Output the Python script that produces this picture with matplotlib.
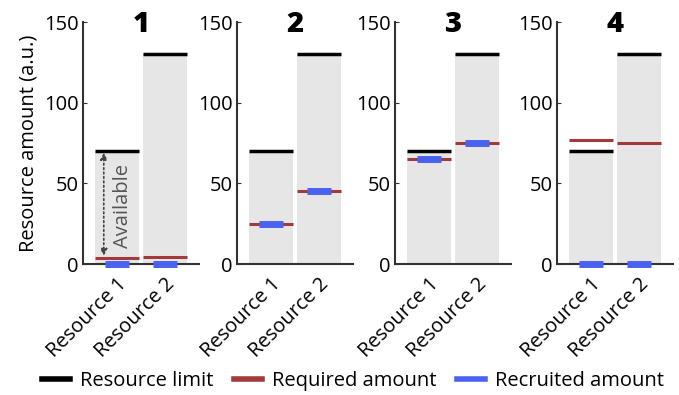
import numpy as np
import matplotlib
matplotlib.use("Agg")
import matplotlib.pyplot as plt
from matplotlib.lines import Line2D

plt.rcParams['font.family'] = ['Open Sans', 'DejaVu Sans']

# datos de los cuatro escenarios
paneles = ["1", "2", "3", "4"]
recursos = ["Resource 1", "Resource 2"]
limite = [[70, 130], [70, 130], [70, 130], [70, 130]]
requerido = [[4, 4.5], [25, 45], [65, 75], [77, 75]]
reclutado = [[0, 0], [25, 45], [65, 75], [0, 0]]

color_gris = "#e6e6e6"
color_rojo = "#a3393b"
color_azul = "#4a62f0"
color_eje = "#333333"
tam = 14.5

fig = plt.figure(figsize=(6.79, 3.95), dpi=100)
izquierdas = [83, 237, 395, 557]
ancho_px = 116
abajo = (395 - 264) / 395
alto = 242 / 395

x = np.array([1, 2])
for k, nombre in enumerate(paneles):
    ax = fig.add_axes([izquierdas[k] / 679, abajo, ancho_px / 679, alto])
    ax.bar(x, limite[k], width=0.9, color=color_gris, zorder=1)
    for i in range(2):
        ax.hlines(limite[k][i], x[i] - 0.45, x[i] + 0.45, color="black", lw=2.5, zorder=3)
        ax.hlines(requerido[k][i], x[i] - 0.45, x[i] + 0.45, color=color_rojo, lw=2.2, zorder=4)
        ax.hlines(reclutado[k][i], x[i] - 0.25, x[i] + 0.25, color=color_azul, lw=5, zorder=5,
                  clip_on=False)
    ax.set_xlim(0.3, 2.7)
    ax.set_ylim(0, 150)
    ax.set_yticks([0, 50, 100, 150])
    ax.set_xticks(x)
    ax.set_xticklabels(recursos, rotation=45, ha="right", rotation_mode="anchor")
    ax.tick_params(axis="both", labelsize=tam, direction="in", length=3, color=color_eje, pad=3)
    ax.tick_params(axis="x", length=0, pad=7)
    for lado in ["top", "right"]:
        ax.spines[lado].set_visible(False)
    for lado in ["left", "bottom"]:
        ax.spines[lado].set_color(color_eje)
        ax.spines[lado].set_linewidth(1.5)
    ax.text(0.5, 0.96, nombre, transform=ax.transAxes, ha="center", va="baseline",
            fontsize=21, fontweight="heavy")
    if k == 0:
        ax.set_ylabel("Resource amount (a.u.)", fontsize=tam, labelpad=4)
        # flecha de "Available"
        ax.annotate("", xy=(0.73, requerido[0][0] + 1), xytext=(0.73, limite[0][0] - 1),
                    arrowprops=dict(arrowstyle="<|-|>", linestyle=":", color="#444444",
                                    lw=1.2, mutation_scale=10, shrinkA=0, shrinkB=0))
        ax.text(1.13, 36, "Available", rotation=90, ha="center", va="center",
                fontsize=tam, color="#555555")

# leyenda
manejadores = [Line2D([], [], color="black", lw=4),
               Line2D([], [], color=color_rojo, lw=4),
               Line2D([], [], color=color_azul, lw=4)]
fig.legend(manejadores, ["Resource limit", "Required amount", "Recruited amount"],
           loc="lower center", bbox_to_anchor=(0.52, -0.035), ncol=3, frameon=False,
           fontsize=tam, handlelength=1.4, handletextpad=0.5, columnspacing=1.0)

fig.savefig("out.png", dpi=100)
